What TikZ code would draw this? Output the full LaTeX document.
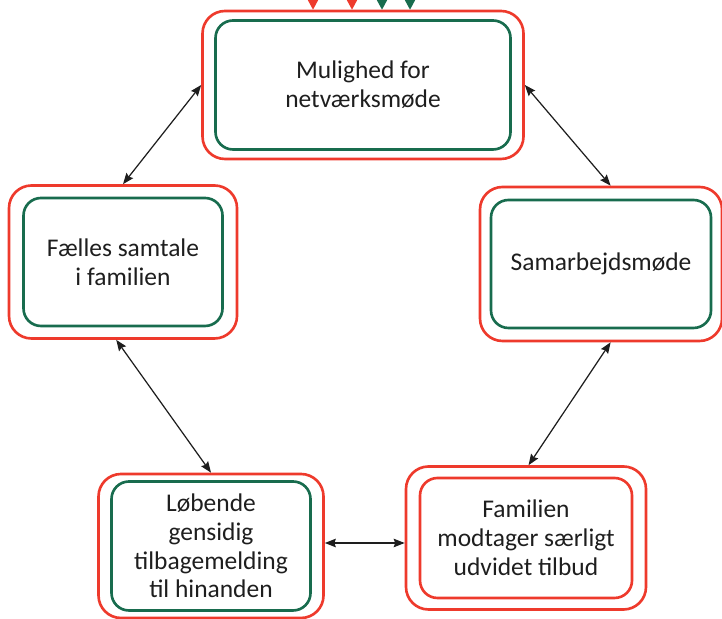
\documentclass[tikz,border=0pt]{standalone}
\usepackage{fontspec}
\setmainfont{Carlito}
\usepackage{tikz}
\usetikzlibrary{arrows.meta}

\definecolor{boxred}{RGB}{238,58,44}
\definecolor{boxgreen}{RGB}{24,108,78}
\definecolor{ink}{RGB}{30,30,30}

\begin{document}
\begin{tikzpicture}[>={Stealth[length=0.22cm,width=0.17cm,inset=0.03cm]}]
		\tikzstyle{outer}=[draw=boxred,line width=1.5pt,rounded corners=0.45cm,inner sep=0pt]
		\tikzstyle{inner}=[draw=boxgreen,line width=1.5pt,rounded corners=0.35cm,inner sep=0pt,align=center,text=ink,font=\fontsize{14.5}{16.4}\selectfont]
		\tikzstyle{link}=[<->,ink,line width=0.7pt]
		\tikzstyle{feed}=[->,line width=0.7pt,>={Triangle[length=0.2cm,width=0.21cm]}]
		
		\useasboundingbox (0,0) rectangle (14.44,12.36);
		
		% top
		\node[outer,minimum width=6.42cm,minimum height=2.96cm](netO) at (7.26,10.66){};
		\node[inner,minimum width=5.9cm,minimum height=2.58cm](netI) at (7.26,10.66){Mulighed for\\netværksmøde};
		
		% left and right
		\node[outer,minimum width=4.56cm,minimum height=3.06cm](samtO) at (2.46,7.12){};
		\node[inner,minimum width=3.98cm,minimum height=2.56cm](samtI) at (2.46,7.12){Fælles samtale\\i familien};
		
		\node[outer,minimum width=4.84cm,minimum height=3.08cm](samO) at (12.02,7.08){};
		\node[inner,minimum width=4.4cm,minimum height=2.56cm](samI) at (12.02,7.08){Samarbejdsmøde};
		
		% bottom
		\node[outer,minimum width=4.5cm,minimum height=2.88cm](lobO) at (4.22,1.44){};
		\node[inner,minimum width=3.98cm,minimum height=2.58cm](lobI) at (4.22,1.44){Løbende\\gensidig\\tilbagemelding\\til hinanden};
		
		\node[outer,minimum width=4.8cm,minimum height=2.86cm](tilO) at (10.52,1.6){};
		\node[inner,draw=boxred,minimum width=4.24cm,minimum height=2.4cm](tilI) at (10.52,1.6){Familien\\modtager særligt\\udvidet tilbud};
		
		\draw[link] (netO.west) -- (samtO.north);
		\draw[link] (netO.east) -- (samO.83);
		\draw[link] (samtO.265) -- (lobO.north);
		\draw[link] (samO.277) -- (tilO.88);
		\draw[link] ([yshift=0.06cm]lobO.east) -- ([yshift=0.06cm]lobO.east -| tilO.west);
		
		% arrows coming in from above
		\coordinate (in1) at (6.26,12.75);
		\coordinate (in2) at (7.04,12.75);
		\coordinate (in3) at (7.64,12.75);
		\coordinate (in4) at (8.2,12.75);
		\draw[feed,boxred] (in1) -- (in1 |- netO.north);
		\draw[feed,boxred] (in2) -- (in2 |- netO.north);
		\draw[feed,boxgreen] (in3) -- (in3 |- netO.north);
		\draw[feed,boxgreen] (in4) -- (in4 |- netO.north);
\end{tikzpicture}
\end{document}
